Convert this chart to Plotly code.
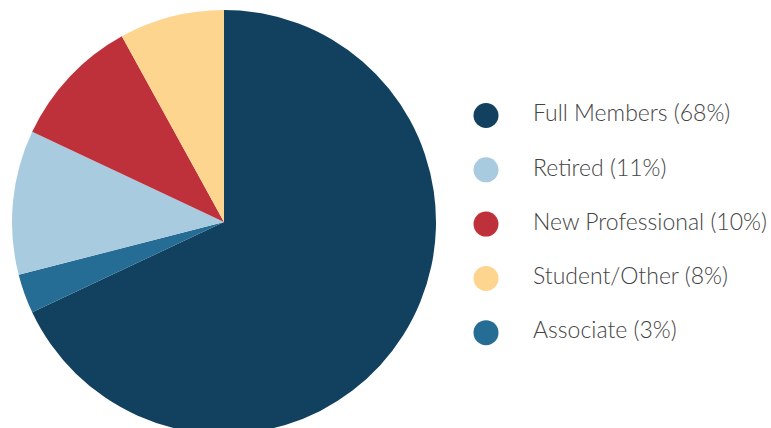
import plotly.graph_objects as go

# Slice order (clockwise from 12 o'clock)
pie_labels = ["Full Members", "Associate", "Retired", "New Professional", "Student/Other"]
pie_values = [68, 3, 11, 10, 8]
pie_colors = ["#11415e", "#256d94", "#a9cbdf", "#bf313a", "#fdd58f"]

# Legend order
legend_labels = ["Full Members", "Retired", "New Professional", "Student/Other", "Associate"]
legend_pcts = [68, 11, 10, 8, 3]
legend_colors = ["#11415e", "#a9cbdf", "#bf313a", "#fdd58f", "#256d94"]

W, H = 771, 440
TOP = 4

fig = go.Figure()
cx, r = 224, 212
fig.add_trace(go.Pie(
    labels=pie_labels, values=pie_values, sort=False, direction="clockwise",
    rotation=0, marker=dict(colors=pie_colors, line=dict(width=0)),
    textinfo="none", hoverinfo="label+percent", showlegend=False,
    domain=dict(x=[(cx - r) / W, (cx + r) / W], y=[0, 1]),
))

rows = list(range(len(legend_labels)))
x0 = 0.6 * W
xw = 0.4 * W
fig.add_trace(go.Scatter(
    x=[(486 - x0) / xw] * len(rows), y=rows, mode="markers",
    marker=dict(size=25, color=legend_colors, line=dict(width=0)),
    hoverinfo="skip", showlegend=False,
))
fig.add_trace(go.Scatter(
    x=[(533 - x0) / xw] * len(rows), y=rows, mode="text",
    text=[f"{l} ({p}%)" for l, p in zip(legend_labels, legend_pcts)],
    textposition="middle right", cliponaxis=False,
    textfont=dict(family="Lato", size=23, color="#444444", weight=300),
    hoverinfo="skip", showlegend=False,
))

PH = H - TOP  # plot area height in px
span = 4 * PH / 217.2
b = -(115.5 - TOP) * span / PH
a = b + span
fig.update_layout(
    width=W, height=H, margin=dict(l=0, r=0, t=TOP, b=0),
    paper_bgcolor="white", plot_bgcolor="rgba(0,0,0,0)",
    showlegend=False,
    xaxis=dict(domain=[0.6, 1.0], range=[0, 1], visible=False, fixedrange=True),
    yaxis=dict(domain=[0, 1], range=[a, b], visible=False, fixedrange=True),
)
fig.write_html(
    "out.html",
    config={"displayModeBar": False},
    post_script=(
        "document.body.style.margin='0';"
        "document.body.style.overflow='hidden';"
        "document.documentElement.style.overflow='hidden';"
    ),
)
